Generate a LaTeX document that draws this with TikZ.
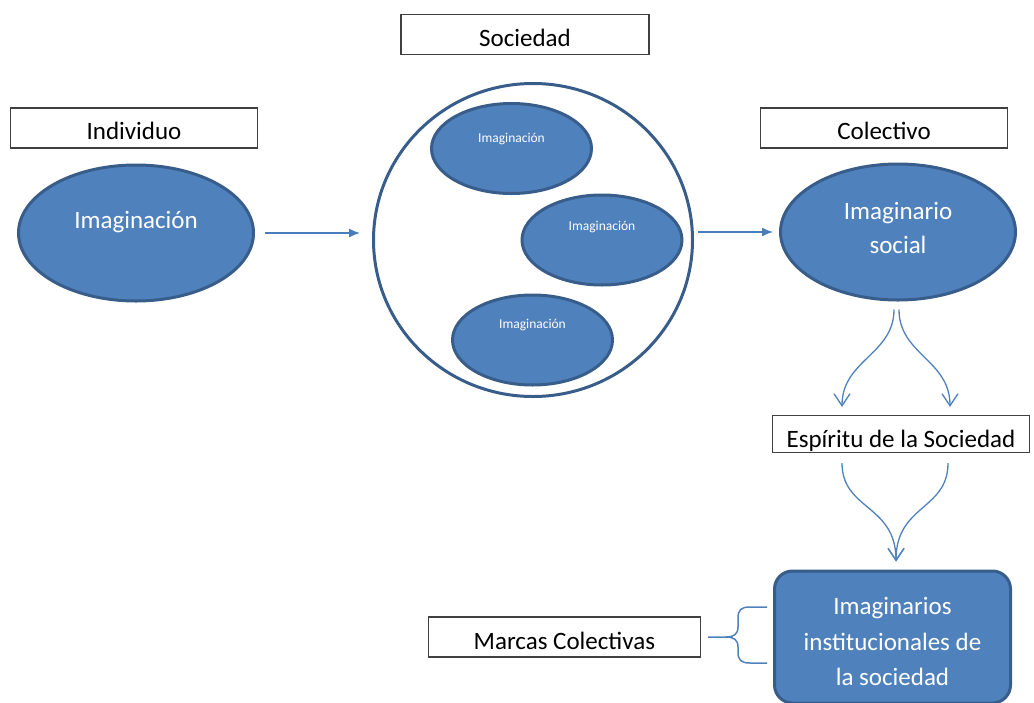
\documentclass[tikz,border=0pt]{standalone}
\usepackage{fontspec}
\setmainfont{Carlito}
\usetikzlibrary{shapes,arrows,arrows.meta,positioning,calc}
\definecolor{ofblue}{HTML}{4F81BD}
\definecolor{ofdark}{HTML}{385D8A}
\definecolor{ofline}{HTML}{4A7EBB}
\tikzset{
tag/.style = {draw=black!75, line width=1.2pt, fill=white, rectangle, minimum height=40pt, inner sep=0pt, text height=27pt, text depth=3pt, font=\fontsize{25}{30}\selectfont},
blob/.style = {draw=ofdark, fill=ofblue, ellipse, line width=3pt, inner sep=0pt, text=white},
big/.style = {blob, minimum width=235pt, minimum height=136pt, font=\fontsize{25}{34}\selectfont},
small/.style = {blob, minimum width=160pt, minimum height=90pt, text height=4pt, font=\fontsize{13.5}{15}\selectfont},
link/.style = {ofline, line width=1.3pt},
curvelink/.style = {ofblue, line width=1.3pt, -{Straight Barb[length=12pt,width=16pt]}}
}
\begin{document}
\begin{tikzpicture}[x=1pt, y=-1pt, >={Latex[length=11pt,width=9pt]}]
\useasboundingbox (0,0) rectangle (1034,702);
% individuo
\node[big, text height=8pt, text depth=18pt] (imag) at (136,233) {Imaginación};
\node[tag, minimum width=247pt, above=15pt of imag, xshift=-2pt] (indiv) {Individuo};
% sociedad: ring with three imaginations
\node[draw=ofdark, line width=3pt, ellipse, minimum width=319pt, minimum height=313pt] (socring) at (533,240) {};
\node[tag, minimum width=248pt, above=27pt of socring, xshift=-8pt] (soc) {Sociedad};
\node[small, text depth=17pt] (imag1) at (511.5,148.5) {Imaginación};
\node[small, text depth=24pt] (imag2) at (602,240) {Imaginación};
\node[small, text depth=28pt] (imag3) at (532.5,340) {Imaginación};
% colectivo
\node[big, align=center] (isoc) at (898,232) {Imaginario\\social\rule[-8pt]{0pt}{8pt}};
\node[tag, minimum width=247pt, above=14pt of isoc, xshift=-14pt] (colec) {Colectivo};
\node[tag, minimum width=257pt, minimum height=37pt, text height=28pt, text depth=2pt] (esp) at (901,434) {Espíritu de la Sociedad};
\node[draw=ofdark, fill=ofblue, line width=3pt, rounded corners=18pt, minimum width=236pt, minimum height=132pt, align=center, text=white, font=\fontsize{25}{35.5}\selectfont] (ibox) at (892.5,637) {\rule{0pt}{27pt}Imaginarios\\ institucionales de\\ la sociedad};
\node[tag, minimum width=272pt, left=72pt of ibox] (marcas) {Marcas Colectivas};

\draw[link, ->, shorten <=10pt, shorten >=12pt] (imag.east) -- (imag.east -| socring.west);
\draw[link, ->, shorten <=4pt, shorten >=6pt] (socring.east |- isoc.west) -- (isoc.west);
\draw[curvelink] ([xshift=-4pt,yshift=-8pt]isoc.south) .. controls +(0,45) and +(0,-47) .. ([xshift=-59pt,yshift=8pt]esp.north);
\draw[curvelink] ([xshift=1pt,yshift=-8pt]isoc.south) .. controls +(0,45) and +(0,-47) .. ([xshift=49pt,yshift=8pt]esp.north);
\draw[curvelink] ([xshift=-59pt,yshift=-10pt]esp.south) .. controls +(0,47) and +(0,-57) .. ([xshift=3.5pt,yshift=8pt]ibox.north);
\draw[curvelink] ([xshift=47pt,yshift=-10pt]esp.south) .. controls +(0,47) and +(0,-57) .. ([xshift=3.5pt,yshift=8pt]ibox.north);
% brace
\draw[link, ofblue, line width=1.5pt] (767,607) -- (750,607) .. controls (741,607) and (738,610) .. (738,618) -- (738,627) .. controls (738,634) and (734,637) .. (726,637) -- (708,637);
\draw[link, ofblue, line width=1.5pt] (767,663) -- (750,663) .. controls (741,663) and (738,660) .. (738,652) -- (738,647) .. controls (738,640) and (734,637) .. (726,637);
\end{tikzpicture}
\end{document}
